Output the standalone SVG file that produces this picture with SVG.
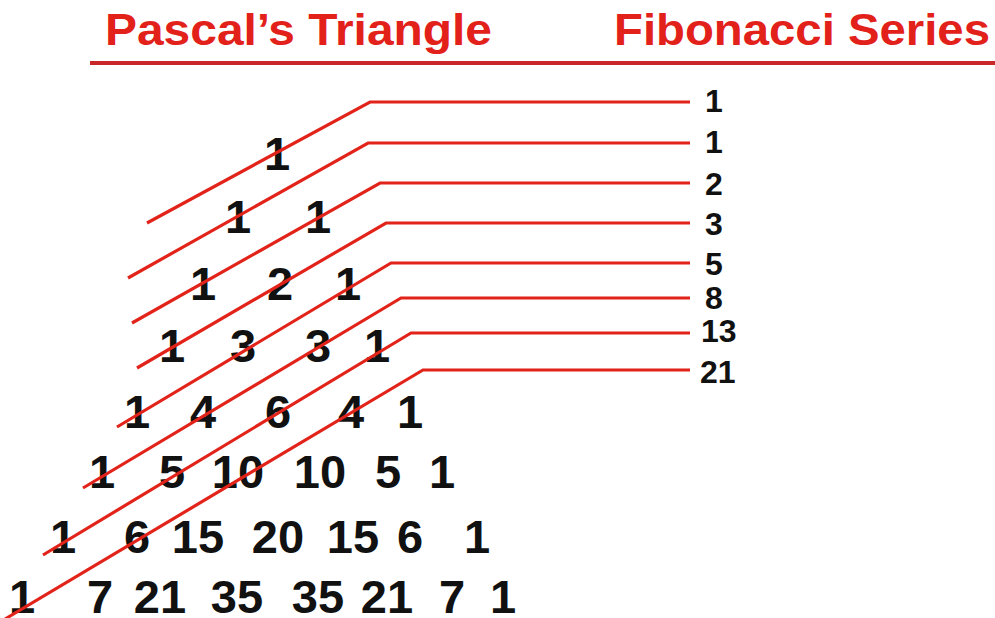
<svg xmlns="http://www.w3.org/2000/svg" width="995" height="618" viewBox="0 0 995 618">
<style>
.title{font-family:"Liberation Sans",Arial,sans-serif;font-weight:bold;font-size:45px;fill:#e3211b}
.p{font-family:"Liberation Sans",Arial,sans-serif;font-weight:bold;font-size:47px;fill:#111;text-anchor:middle}
.f{font-family:"Liberation Sans",Arial,sans-serif;font-weight:bold;font-size:32px;fill:#111}
.diag{fill:none;stroke:#e2231a;stroke-width:3.2;stroke-linejoin:miter}
.rule{stroke:#c8282a;stroke-width:4}
</style>
<rect width="995" height="618" fill="#fff"/>
<g id="titles">
<text class="title" x="105" y="45" textLength="387" lengthAdjust="spacingAndGlyphs">Pascal’s Triangle</text>
<text class="title" x="614" y="45" textLength="376" lengthAdjust="spacingAndGlyphs">Fibonacci Series</text>
<line class="rule" x1="90" y1="63" x2="995" y2="63"/>
</g>
<g id="pascal-row1"><text class="p" x="277" y="170">1</text></g>
<g id="pascal-row2"><text class="p" x="238" y="233">1</text><text class="p" x="318" y="233">1</text></g>
<g id="pascal-row3"><text class="p" x="203" y="300">1</text><text class="p" x="280" y="300">2</text><text class="p" x="348" y="300">1</text></g>
<g id="pascal-row4"><text class="p" x="172" y="362">1</text><text class="p" x="243" y="362">3</text><text class="p" x="318" y="362">3</text><text class="p" x="377" y="362">1</text></g>
<g id="pascal-row5"><text class="p" x="137" y="428">1</text><text class="p" x="203" y="428">4</text><text class="p" x="278" y="428">6</text><text class="p" x="351" y="428">4</text><text class="p" x="410" y="428">1</text></g>
<g id="pascal-row6"><text class="p" x="102" y="488">1</text><text class="p" x="172" y="488">5</text><text class="p" x="238" y="488">10</text><text class="p" x="320" y="488">10</text><text class="p" x="388" y="488">5</text><text class="p" x="442" y="488">1</text></g>
<g id="pascal-row7"><text class="p" x="63" y="553">1</text><text class="p" x="137" y="553">6</text><text class="p" x="198" y="553">15</text><text class="p" x="278" y="553">20</text><text class="p" x="353" y="553">15</text><text class="p" x="410" y="553">6</text><text class="p" x="477" y="553">1</text></g>
<g id="pascal-row8"><text class="p" x="22" y="613">1</text><text class="p" x="100" y="613">7</text><text class="p" x="160" y="613">21</text><text class="p" x="237" y="613">35</text><text class="p" x="318" y="613">35</text><text class="p" x="387" y="613">21</text><text class="p" x="452" y="613">7</text><text class="p" x="503" y="613">1</text></g>
<g id="fib-1a"><text class="f" x="705" y="112">1</text></g>
<g id="fib-1b"><text class="f" x="705" y="153">1</text></g>
<g id="fib-2"><text class="f" x="705" y="195">2</text></g>
<g id="fib-3"><text class="f" x="705" y="235">3</text></g>
<g id="fib-5"><text class="f" x="705" y="275">5</text></g>
<g id="fib-8"><text class="f" x="705" y="309">8</text></g>
<g id="fib-13"><text class="f" x="701" y="342">13</text></g>
<g id="fib-21"><text class="f" x="700" y="383">21</text></g>
<g id="connectors">
<polyline class="diag" points="147,223 370,102 690,102"/>
<polyline class="diag" points="128,278 368,143 690,143"/>
<polyline class="diag" points="132,323 380,183 690,183"/>
<polyline class="diag" points="137,368 386,223 690,223"/>
<polyline class="diag" points="117,427 391,263 690,263"/>
<polyline class="diag" points="83,488 401,298 690,298"/>
<polyline class="diag" points="43,555 411,333 690,333"/>
<polyline class="diag" points="5,619 423,370 690,370"/>
</g>
</svg>
